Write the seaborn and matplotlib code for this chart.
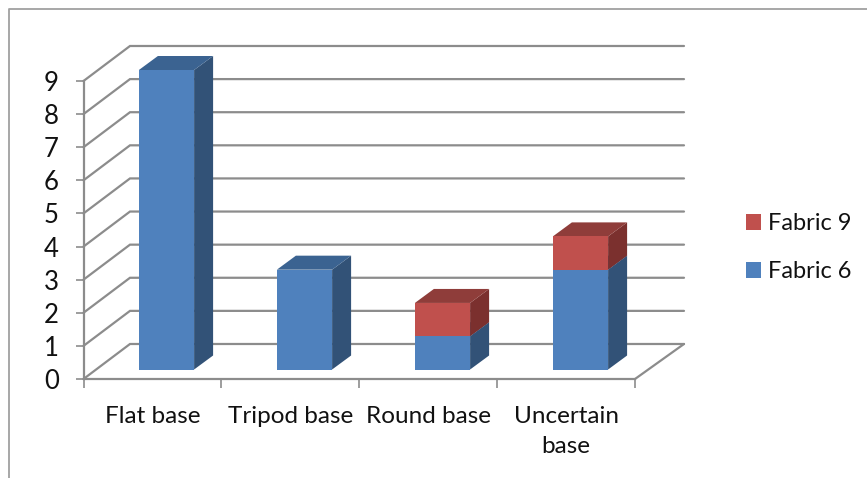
import matplotlib
matplotlib.use('Agg')
import matplotlib.pyplot as plt
from matplotlib.lines import Line2D
from matplotlib.patches import Patch, Polygon
import seaborn as sns

bases = ['Flat base', 'Tripod base', 'Round base', 'Uncertain\nbase']
fabric_6 = [9, 3, 1, 3]
fabric_9 = [0, 0, 1, 1]
value_ticks = list(range(10))

W, H = 867, 478
GRID = '#8c8c8c'
BLUE = ('#4f81bd', '#3b6391', '#325277')
RED = ('#c0504d', '#8f3d3a', '#7b302e')


def px_axes(fig, left, right, top, bottom):
    return fig.add_axes([left / W, 1 - bottom / H, (right - left) / W, (bottom - top) / H])


def add_depth(ax, bars, top_col, side_col, dx, dy):
    # side and top faces of the fake 3d columns
    for bar in bars:
        if bar.get_height() == 0:
            continue
        x0, y0 = bar.get_xy()
        x1, y1 = x0 + bar.get_width(), y0 + bar.get_height()
        ax.add_patch(Polygon([(x1, y0), (x1 + dx, y0 + dy), (x1 + dx, y1 + dy), (x1, y1)],
                             fc=side_col, ec='none', clip_on=False))
        ax.add_patch(Polygon([(x0, y1), (x0 + dx, y1 + dy), (x1 + dx, y1 + dy), (x1, y1)],
                             fc=top_col, ec='none', clip_on=False))


sns.set_theme(style='white')
plt.rcParams['font.family'] = ['Lato', 'DejaVu Sans']

fig = plt.figure(figsize=(W / 100, H / 100), dpi=100)
fig.add_artist(Line2D([9 / W, 9 / W, 1], [0, 1 - 9 / H, 1 - 9 / H], color='#a0a0a0', lw=1.3))

# back walls, axis and labels
wall = px_axes(fig, 83.5, 635, 81, 379)
wall.set_xlim(-0.5, 3.5)
wall.set_ylim(0, 9)
wall_dx = 46.5 / 137.9
wall_dy = 35 / 33.1
wall_end = 3.5 + 49 / 137.9
for v in value_ticks:
    wall.plot([-0.5, -0.5 + wall_dx, wall_end], [v, v + wall_dy, v + wall_dy],
              color=GRID, lw=1.6, clip_on=False, solid_joinstyle='miter')
wall.plot([3.5, wall_end], [0, wall_dy], color=GRID, lw=1.6, clip_on=False)
wall.set_yticks(value_ticks)
wall.set_xticks([-0.5, 0.5, 1.5, 2.5, 3.5])
wall.set_xticklabels([])
wall.set_xticks(range(len(bases)), labels=bases, minor=True)
wall.tick_params(axis='y', length=5.8, width=1.2, color=GRID, pad=12, labelsize=18.5, left=True, labelcolor='#111111')
wall.tick_params(axis='x', which='major', length=6.5, width=1.2, color=GRID, bottom=True)
wall.tick_params(axis='x', which='minor', length=0, pad=19.5, labelsize=17.5, labelcolor='#111111')
for lab in wall.get_xticklabels(minor=True):
    lab.set_linespacing(1.53)
sns.despine(ax=wall)
for side in ['left', 'bottom']:
    wall.spines[side].set_color(GRID)
    wall.spines[side].set_linewidth(1.6)

# columns
ax = px_axes(fig, 97.5, 649.5, 70, 369.5)
ax.patch.set_alpha(0)
sns.barplot(x=bases, y=fabric_6, color=BLUE[0], saturation=1, width=0.4, linewidth=0, ax=ax, zorder=3)
blue_bars = list(ax.patches)
sns.barplot(x=bases, y=fabric_9, bottom=fabric_6, color=RED[0], saturation=1, width=0.4, linewidth=0, ax=ax, zorder=3)
red_bars = list(ax.patches)[len(blue_bars):]
ax.set_xlim(-0.5, 3.5)
ax.set_ylim(0, 9)
ax.axis('off')
dx, dy = 19 / 138, 14 / 33.28
add_depth(ax, blue_bars, BLUE[1], BLUE[2], dx, dy)
add_depth(ax, red_bars, RED[1], RED[2], dx, dy)

handles = [Patch(fc=RED[0], lw=0, label='Fabric 9'), Patch(fc=BLUE[0], lw=0, label='Fabric 6')]
fig.legend(handles=handles, loc='upper left', bbox_to_anchor=(746 / W, 1 - 213 / H),
           frameon=False, fontsize=17, handlelength=0.64, handleheight=0.64, labelcolor='#111111',
           handletextpad=0.3, labelspacing=1.15, borderpad=0, borderaxespad=0)

fig.savefig('out.png', dpi=100)
